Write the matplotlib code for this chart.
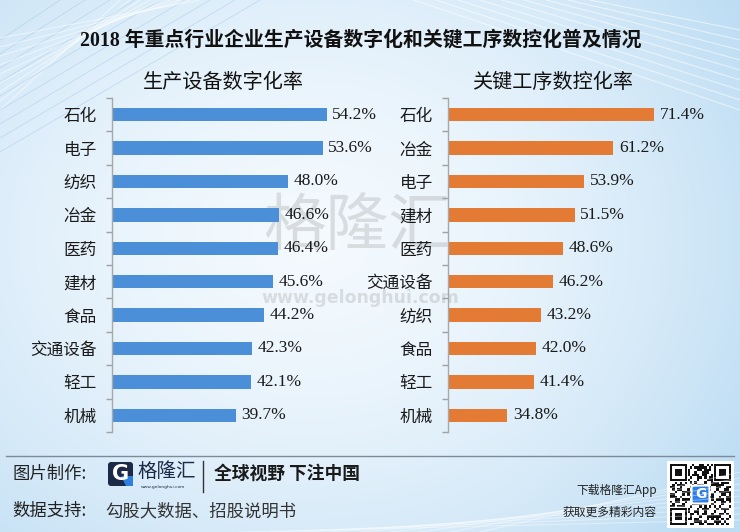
import numpy as np
import matplotlib
matplotlib.use("Agg")
import matplotlib.pyplot as plt
from matplotlib.patches import Rectangle, FancyBboxPatch, Polygon
from matplotlib.lines import Line2D

# ---------------- data ----------------
cats_left = ['石化', '电子', '纺织', '冶金', '医药', '建材', '食品', '交通设备', '轻工', '机械']
vals_left = [54.2, 53.6, 48.0, 46.6, 46.4, 45.6, 44.2, 42.3, 42.1, 39.7]
cats_right = ['石化', '冶金', '电子', '建材', '医药', '交通设备', '纺织', '食品', '轻工', '机械']
vals_right = [71.4, 61.2, 53.9, 51.5, 48.6, 46.2, 43.2, 42.0, 41.4, 34.8]

title = '2018 年重点行业企业生产设备数字化和关键工序数控化普及情况'
sub_left = '生产设备数字化率'
sub_right = '关键工序数控化率'

W, H = 740, 532
SERIF = ['Liberation Serif', 'Noto Sans CJK SC']
SANS = ['Noto Sans CJK SC', 'DejaVu Sans']
plt.rcParams['font.family'] = SANS


def fx(px):
    return px / W


def fy(py):
    return 1 - py / H


fig = plt.figure(figsize=(W / 100, H / 100), dpi=100)

# ---------------- background ----------------
bg = fig.add_axes([0, 0, 1, 1], zorder=-10)
bg.set_xlim(0, W)
bg.set_ylim(H, 0)
bg.axis('off')
xx, yy = np.meshgrid(np.linspace(0, 1, 370), np.linspace(0, 1, 266))
t = np.sqrt(((xx - 0.42) / 0.75) ** 2 + ((yy - 0.45) / 0.85) ** 2)
t = np.clip(t, 0, 1) ** 1.6
t = np.clip(t + 0.35 * np.clip(xx - 0.7, 0, 1), 0, 1)
c0 = np.array([0.955, 0.978, 0.996])
c1 = np.array([0.74, 0.865, 0.955])
img = c0[None, None, :] * (1 - t[..., None]) + c1[None, None, :] * t[..., None]
bg.imshow(img, extent=[0, W, H, 0], aspect='auto', interpolation='bilinear')
# decorative corner lines
for k in range(9):
    bg.add_line(Line2D([0, 60 + 25 * k], [40 + 14 * k, 0], color='#9cc3e3', lw=0.6, alpha=0.45))
    bg.add_line(Line2D([0, 120 + 10 * k], [110 - 9 * k, 0], color='white', lw=0.8, alpha=0.5))
    bg.add_line(Line2D([W, W - 150 - 22 * k], [30 + 10 * k, 0], color='white', lw=0.8, alpha=0.55))
    bg.add_line(Line2D([W, W - 260 - 30 * k], [H - 60 + 6 * k, H], color='white', lw=0.8, alpha=0.4))

# watermark
bg.text(357, 228, '格隆汇', fontsize=45, color='#8c8c8c', alpha=0.26,
        ha='center', va='center', family=SANS)
bg.text(360, 298, 'www.gelonghui.com', fontsize=12.5, fontweight='bold', color='#8c8c8c',
        alpha=0.26, ha='center', va='center', family=['DejaVu Sans'])

# ---------------- titles ----------------
fig.text(fx(361), fy(40), title, fontsize=14.3, fontweight='bold', ha='center', va='center',
         family=SERIF, color='#111111')
fig.text(fx(223), fy(83), sub_left, fontsize=14.5, ha='center', va='center',
         family=SERIF, color='#111111')
fig.text(fx(553), fy(83), sub_right, fontsize=14.5, ha='center', va='center',
         family=SERIF, color='#111111')


# ---------------- panels ----------------
def panel(rect, cats, vals, color, xmax):
    ax = fig.add_axes(rect)
    ax.patch.set_alpha(0)
    n = len(cats)
    y = np.arange(n)
    ax.barh(y, vals, height=0.4, color=color, edgecolor='none', zorder=2)
    for yi, v in zip(y, vals):
        ax.annotate(f'{v:.1f}%', xy=(v, yi), xytext=(4, 0), textcoords='offset points',
                    ha='left', va='center', fontsize=12.5, family=SERIF, color='#1a1a1a')
    ax.set_xlim(20, xmax)
    ax.set_ylim(n - 0.5, -0.5)
    ax.set_yticks(y)
    ax.set_yticklabels(cats, fontsize=12, family=SANS, color='#1a1a1a')
    ax.set_yticks(np.arange(-0.5, n, 1), minor=True)
    ax.tick_params(axis='y', which='major', length=0, pad=11)
    ax.tick_params(axis='y', which='minor', length=4, color='#a0a0a0', width=1, direction='out')
    ax.set_xticks([])
    for s in ['top', 'right', 'bottom']:
        ax.spines[s].set_visible(False)
    ax.spines['left'].set_color('#a8a8a8')
    ax.spines['left'].set_linewidth(1)
    return ax


top, bot = 98, 432
panel([fx(112), fy(bot), fx(363) - fx(112), fy(top) - fy(bot)], cats_left, vals_left, '#4a8fd7', 60)
panel([fx(448), fy(bot), fx(689) - fx(448), fy(top) - fy(bot)], cats_right, vals_right, '#e47b35', 80)

# ---------------- footer ----------------
bg.add_line(Line2D([6, 734], [456, 456], color='#7d8a99', lw=1))
bg.text(12, 474, '图片制作:', fontsize=12.5, color='#222222', va='center', ha='left', family=SANS)
# logo
bg.add_patch(FancyBboxPatch((108, 462), 25, 24, boxstyle='round,pad=0,rounding_size=3',
                            facecolor='#1c2a47', edgecolor='none'))
bg.text(120.5, 474, 'G', fontsize=15, fontweight='bold', color='white', ha='center', va='center',
        family=['DejaVu Sans'])
bg.add_patch(Polygon([[121, 476], [133, 476], [133, 486], [126, 486]], closed=True,
                     facecolor='#2f7fe0', edgecolor='none'))
bg.text(137, 471, '格隆汇', fontsize=14, color='#1c2a47', ha='left', va='center', family=SANS)
bg.text(163, 487, 'www.gelonghui.com', fontsize=3.2, color='#1c2a47', ha='center', va='center',
        family=['DejaVu Sans'])
bg.add_line(Line2D([203, 203], [461, 492], color='#333333', lw=1))
bg.text(214, 474, '全球视野 下注中国', fontsize=12.8, fontweight='bold', color='#1a1a1a',
        ha='left', va='center', family=SANS)
bg.text(12, 511, '数据支持:', fontsize=12.5, color='#222222', va='center', ha='left', family=SANS)
bg.text(105, 511, '勾股大数据、招股说明书', fontsize=12.5, color='#333333', va='center', ha='left',
        family=SANS, fontweight='light')
bg.text(657, 490, '下载格隆汇App', fontsize=8.5, color='#222222', ha='right', va='center', family=SANS)
bg.text(657, 512, '获取更多精彩内容', fontsize=8.5, color='#222222', ha='right', va='center', family=SANS)

# QR code (decorative)
qx, qy, qs = 667, 461, 67
bg.add_patch(Rectangle((qx, qy), qs, qs, facecolor='white', edgecolor='none'))
m = 25
cell = (qs - 6) / m
for i in range(m):
    for j in range(m):
        if ((i * 7 + j * 11 + (i * j) % 5) % 3 == 0) or ((i ^ j) % 4 == 1):
            bg.add_patch(Rectangle((qx + 3 + j * cell, qy + 3 + i * cell), cell, cell,
                                   facecolor='#111111', edgecolor='none'))
for (fi, fj) in [(0, 0), (0, m - 7), (m - 7, 0)]:
    x0, y0 = qx + 3 + fj * cell, qy + 3 + fi * cell
    bg.add_patch(Rectangle((x0 - cell * 0.5, y0 - cell * 0.5), 8 * cell, 8 * cell, facecolor='white', edgecolor='none'))
    bg.add_patch(Rectangle((x0, y0), 7 * cell, 7 * cell, facecolor='#111111', edgecolor='none'))
    bg.add_patch(Rectangle((x0 + cell, y0 + cell), 5 * cell, 5 * cell, facecolor='white', edgecolor='none'))
    bg.add_patch(Rectangle((x0 + 2 * cell, y0 + 2 * cell), 3 * cell, 3 * cell, facecolor='#111111', edgecolor='none'))
bg.add_patch(FancyBboxPatch((qx + qs / 2 - 9, qy + qs / 2 - 9), 18, 18,
                            boxstyle='round,pad=0,rounding_size=2', facecolor='#2b7de9',
                            edgecolor='white', lw=1.5))
bg.text(qx + qs / 2, qy + qs / 2, 'G', fontsize=10, fontweight='bold', color='white',
        ha='center', va='center', family=['DejaVu Sans'])

fig.savefig('out.png', dpi=100)
